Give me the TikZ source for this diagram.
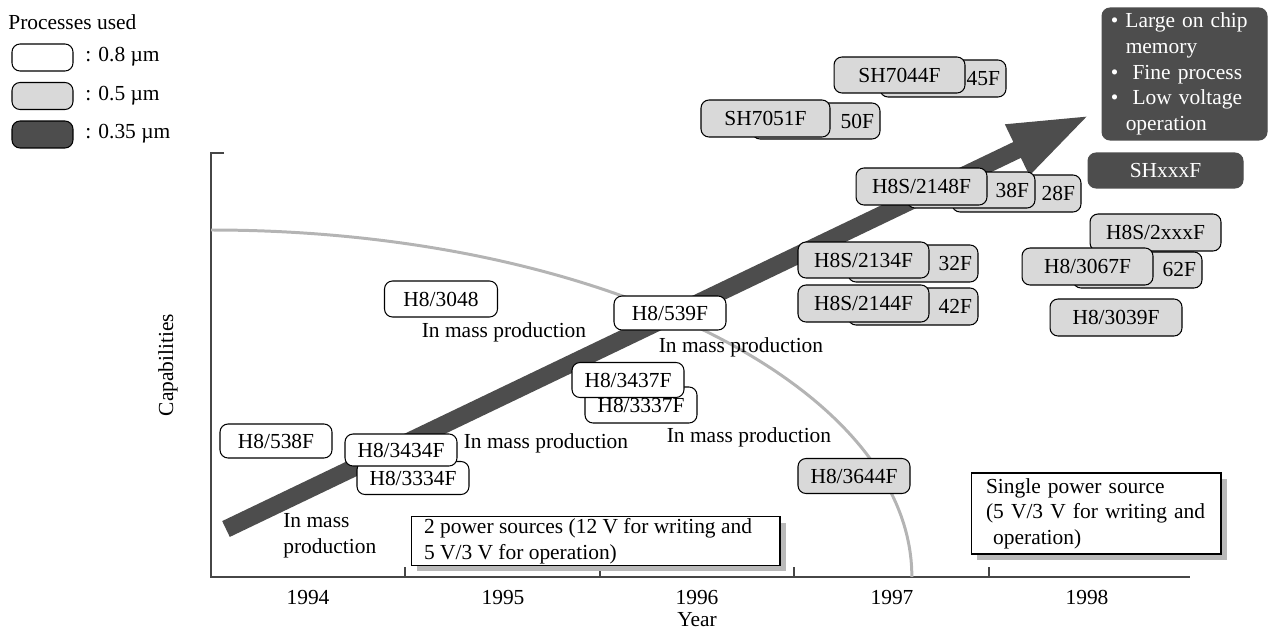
\documentclass[tikz,border=0pt]{standalone}
\usepackage{fontspec}
\setmainfont{Liberation Serif}
\usetikzlibrary{arrows.meta, shadows}
\definecolor{cLight}{RGB}{217,217,217}
\definecolor{cDark}{RGB}{77,77,77}
\definecolor{cCurve}{RGB}{180,180,180}
\definecolor{cAxis}{RGB}{70,70,70}
\definecolor{cShadow}{RGB}{185,185,185}
\newcommand\chipfont{\fontsize{12.2pt}{14.6pt}\selectfont}
\tikzset{
    txt/.style={font=\chipfont, inner sep=0pt},
    chip/.style={
        rectangle, rounded corners=0.16cm, draw=black,
        line width=0.6pt, inner sep=0pt, font=\chipfont,
        align=center,
    },
    chipwhite/.style={chip, fill=white},
    chipgray/.style={chip, fill=cLight},
    chipdark/.style={chip, fill=cDark, draw=cDark, text=white},
    tail/.style={text width=#1, align=right, inner xsep=0.12cm},
    note/.style={
        rectangle, draw=black, line width=0.6pt, fill=white,
        font=\chipfont, align=left, inner ysep=1pt,
        drop shadow={shadow xshift=0.12cm, shadow yshift=-0.12cm,
                     fill=cShadow, opacity=1},
    },
    axisline/.style={draw=cAxis, line width=0.85pt},
    trend/.style={
        draw=cDark, line width=10pt,
        -{Triangle[length=46pt, width=29pt]}
    },
}

\begin{document}
\begin{tikzpicture}[x=0.02cm, y=-0.02cm]
\useasboundingbox (0,0) rectangle (1270,635);

% ============================================================
%  Legend (top left)
% ============================================================
\node[txt, anchor=west] (legtitle) at (8,22) {Processes used};
\node[chipwhite, minimum width=1.22cm, minimum height=0.54cm] (leg8) at (42.5,57.5) {};
\node[chipgray,  minimum width=1.22cm, minimum height=0.54cm] (leg5) at (42.5,96) {};
\node[chipdark,  minimum width=1.22cm, minimum height=0.54cm, draw=black] (leg35) at (42.5,134.5) {};
\node[txt, anchor=west] (leg8lab)  at (85,57)  {: 0.8 µm};
\node[txt, anchor=west] (leg5lab)  at (85,96)  {: 0.5 µm};
\node[txt, anchor=west] (leg35lab) at (85,134) {: 0.35 µm};

% ============================================================
%  Axes, boundary curve and trend arrow
% ============================================================
\coordinate (origin) at (211,577);
\coordinate (ytop)   at (211,153);
\coordinate (xend)   at (1190,577);
\draw[axisline] (224,153) -- (ytop) -- (origin) -- (xend);
\foreach \tx in {405,600,794,989}
    \draw[axisline] (\tx,577) -- (\tx,567);

\draw[draw=cCurve, line width=1.7pt]
    (211,230) arc[start angle=90, end angle=0,
                  x radius=14.02cm, y radius=6.94cm];

\coordinate (trendstart) at (226,529);
\coordinate (trendtip)   at (1090,115);
\draw[trend] (trendstart) -- (trendtip);

% axis texts
\foreach \yr/\xx in {1994/308, 1995/503, 1996/697, 1997/892, 1998/1087}
    \node[txt] (yr\yr) at (\xx,597) {\yr};
\node[txt] (xlab) at (697,620) {Year};
\node[txt, rotate=90] (ylab) at (168,365) {Capabilities};

% ============================================================
%  0.8 um devices (white)
% ============================================================
\node[chipwhite, minimum width=2.24cm, minimum height=0.68cm] (h538) at (276,441) {H8/538F};
\node[chipwhite, minimum width=2.24cm, minimum height=0.66cm] (h3334) at (413,478) {H8/3334F};
\node[chipwhite, minimum width=2.24cm, minimum height=0.64cm] (h3434) at (401,450) {H8/3434F};
\node[chipwhite, minimum width=2.26cm, minimum height=0.72cm] (h3048) at (441,299) {H8/3048};
\node[chipwhite, minimum width=2.24cm, minimum height=0.68cm] (h539) at (670,313) {H8/539F};
\node[chipwhite, minimum width=2.24cm, minimum height=0.72cm] (h3337) at (641,405) {H8/3337F};
\node[chipwhite, minimum width=2.24cm, minimum height=0.70cm] (h3437) at (628,380) {H8/3437F};

% production status
\node[txt] (mp3434) at (546,443) {In mass production};
\node[txt, anchor=west, align=left] (mp538) at (283,536) {In mass\\production};
\node[txt] (mp3048) at (504,332) {In mass production};
\node[txt] (mp539) at (741,347) {In mass production};
\node[txt] (mp3437) at (749,437) {In mass production};

% ============================================================
%  0.5 um devices (light gray); stacked boxes back to front
% ============================================================
\node[chipgray, minimum width=2.24cm, minimum height=0.70cm] (h3644) at (854,476) {H8/3644F};

\node[chipgray, minimum width=2.52cm, minimum height=0.74cm, tail=2.28cm] (sh7045) at (943,78.5) {45F};
\node[chipgray, minimum width=2.62cm, minimum height=0.72cm] (sh7044) at (899.5,75) {SH7044F};

\node[chipgray, minimum width=2.56cm, minimum height=0.72cm, tail=2.32cm] (sh7050) at (816,121) {50F};
\node[chipgray, minimum width=2.58cm, minimum height=0.74cm] (sh7051) at (765.5,118.5) {SH7051F};

\node[chipgray, minimum width=2.58cm, minimum height=0.74cm, tail=2.34cm] (h2128) at (1016.5,193.5) {28F};
\node[chipgray, minimum width=2.56cm, minimum height=0.72cm, tail=2.32cm] (h2138) at (971,190) {38F};
\node[chipgray, minimum width=2.62cm, minimum height=0.74cm] (h2148) at (921.5,186.5) {H8S/2148F};

\node[chipgray, minimum width=2.60cm, minimum height=0.74cm, tail=2.36cm] (h2132) at (913,263.5) {32F};
\node[chipgray, minimum width=2.62cm, minimum height=0.72cm] (h2134) at (863.5,260) {H8S/2134F};

\node[chipgray, minimum width=2.60cm, minimum height=0.74cm, tail=2.36cm] (h2142) at (913,306.5) {42F};
\node[chipgray, minimum width=2.62cm, minimum height=0.74cm] (h2144) at (863.5,303.5) {H8S/2144F};

\node[chipgray, minimum width=2.62cm, minimum height=0.74cm] (h2xxx) at (1155.5,232.5) {H8S/2xxxF};
\node[chipgray, minimum width=2.58cm, minimum height=0.72cm, tail=2.34cm] (h3062) at (1137.5,270) {62F};
\node[chipgray, minimum width=2.62cm, minimum height=0.74cm] (h3067) at (1087.5,266.5) {H8/3067F};
\node[chipgray, minimum width=2.64cm, minimum height=0.74cm] (h3039) at (1116,317.5) {H8/3039F};

% ============================================================
%  0.35 um devices (dark)
% ============================================================
\node[chipdark, minimum width=3.10cm, minimum height=0.70cm] (shxxx) at (1165.5,170.5) {SHxxxF};
\node[chipdark, minimum width=3.30cm, minimum height=2.64cm, text width=2.95cm, align=left] (future) at (1184.5,74) {%
    • Large on chip\\
    \hspace*{0.3cm}memory\\
    •\ \ Fine process\\
    •\ \ Low voltage\\
    \hspace*{0.3cm}operation};

% ============================================================
%  Power supply notes
% ============================================================
\node[note, minimum width=7.38cm] (twopower) at (595.5,541) {%
    2 power sources (12 V for writing and\hspace*{0.3cm}\\
    5 V/3 V for operation)};
\node[note, minimum width=5cm, minimum height=1.62cm, text width=4.4cm] (onepower) at (1096,513.5) {%
    Single power source\\
    (5 V/3 V for writing and\\
    \ operation)};

\end{tikzpicture}
\end{document}
